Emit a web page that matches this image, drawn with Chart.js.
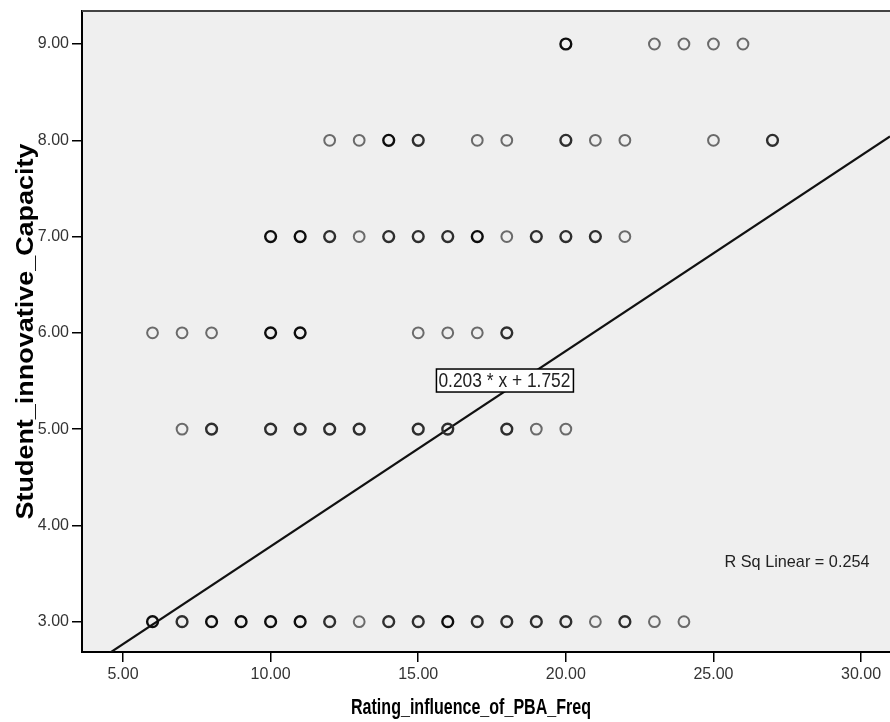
<!DOCTYPE html>
<html>
<head>
<meta charset="utf-8">
<script src="https://cdn.jsdelivr.net/npm/chart.js@4.4.1/dist/chart.umd.min.js"></script>
<style>
  html, body { margin: 0; padding: 0; background: #fff; }
  #scatter { display: block; }
</style>
</head>
<body>
<canvas id="scatter" width="890" height="722"></canvas>
<script>
'use strict';

// x values observed at each y level, and how many cases sit on each point
const xAt3 = [6, 7, 8, 9, 10, 11, 12, 13, 14, 15, 16, 17, 18, 19, 20, 21, 22, 23, 24];
const nAt3 = [5, 2, 3, 3, 3, 3, 2, 1, 2, 2, 3, 2, 2, 2, 2, 1, 2, 1, 1];
const xAt5 = [7, 8, 10, 11, 12, 13, 15, 16, 18, 19, 20];
const nAt5 = [1, 2, 2, 2, 2, 2, 2, 2, 2, 1, 1];
const xAt6 = [6, 7, 8, 10, 11, 15, 16, 17, 18];
const nAt6 = [1, 1, 1, 3, 3, 1, 1, 1, 2];
const xAt7 = [10, 11, 12, 13, 14, 15, 16, 17, 18, 19, 20, 21, 22];
const nAt7 = [3, 3, 2, 1, 2, 2, 2, 3, 1, 2, 2, 2, 1];
const xAt8 = [12, 13, 14, 15, 17, 18, 20, 21, 22, 25, 27];
const nAt8 = [1, 1, 3, 2, 1, 1, 2, 1, 1, 1, 2];
const xAt9 = [20, 23, 24, 25, 26];
const nAt9 = [3, 1, 1, 1, 1];

const xTicks = [5, 10, 15, 20, 25, 30];
const yTicks = [3, 4, 5, 6, 7, 8, 9];

const fitSlope = 0.203;
const fitIntercept = 1.752;
const fitLabel = '0.203 * x + 1.752';
const rSqLabel = 'R Sq Linear = 0.254';
const xTitle = 'Rating_influence_of_PBA_Freq';
const yTitle = 'Student_innovative_Capacity';

const X_MIN = 3.611;
const X_MAX = 30.98;
const Y_MIN = 2.685;
const Y_MAX = 9.343;

function buildPoints() {
  const rows = [[3, xAt3, nAt3], [5, xAt5, nAt5], [6, xAt6, nAt6], [7, xAt7, nAt7], [8, xAt8, nAt8], [9, xAt9, nAt9]];
  const points = [];
  rows.forEach(([y, xs, ns]) => {
    xs.forEach((x, i) => points.push({ x, y, n: ns[i] }));
  });
  return points;
}

function ringColor(ctx) {
  const n = ctx.raw?.n || 1;
  if (n >= 3) return '#0d0d0d';
  if (n === 2) return '#2e2e2e';
  return '#6a6a6a';
}

function ringWidth(ctx) {
  const n = ctx.raw?.n || 1;
  return n >= 2 ? 2.4 : 2;
}

// draw text stretched to a given length along its baseline
function drawFitted(ctx, text, font, cx, cy, length, thickScale, rotate, color) {
  ctx.save();
  ctx.font = font;
  const w = ctx.measureText(text).width;
  ctx.translate(cx, cy);
  if (rotate) ctx.rotate(-Math.PI / 2);
  ctx.scale(length / w, thickScale);
  ctx.textAlign = 'center';
  ctx.textBaseline = 'middle';
  ctx.fillStyle = color || '#000';
  ctx.fillText(text, 0, 0);
  ctx.restore();
}

const frameAndNotes = {
  id: 'frameAndNotes',
  beforeDraw(chart) {
    const { ctx, chartArea: a } = chart;
    ctx.save();
    ctx.fillStyle = '#efefef';
    ctx.fillRect(a.left, a.top, a.right - a.left, a.bottom - a.top);
    ctx.restore();
  },
  afterDraw(chart) {
    const { ctx, chartArea: a, scales } = chart;
    ctx.save();
    ctx.strokeStyle = '#444';
    ctx.lineWidth = 2;
    ctx.beginPath();
    ctx.moveTo(a.left, a.top);
    ctx.lineTo(a.right, a.top);
    ctx.stroke();

    // equation label on the fit line
    const ex = scales.x.getPixelForValue(17.92);
    const ey = scales.y.getPixelForValue(5.51);
    ctx.fillStyle = '#fff';
    ctx.fillRect(ex - 68, ey - 11, 137, 23);
    ctx.strokeStyle = '#000';
    ctx.lineWidth = 1.5;
    ctx.strokeRect(ex - 68, ey - 11, 137, 23);
    ctx.restore();
    drawFitted(ctx, fitLabel, '16px "Liberation Sans", Arial, sans-serif', ex, ey + 1, 132, 1.3, false, '#222');

    const rx = scales.x.getPixelForValue(27.83);
    const ry = scales.y.getPixelForValue(3.609);
    drawFitted(ctx, rSqLabel, '14px "Liberation Sans", Arial, sans-serif', rx, ry, 145, 1.15, false, '#222');

    drawFitted(ctx, xTitle, 'bold 17px "Liberation Sans", Arial, sans-serif', 471, 708, 240, 1.3, false);
    drawFitted(ctx, yTitle, 'bold 16px "Liberation Sans", Arial, sans-serif', 27, (a.top + a.bottom) / 2, 376, 1.45, true);
  },
};

function axisOptions(min, max, ticks, side) {
  return {
    type: 'linear',
    min,
    max,
    afterBuildTicks: scale => { scale.ticks = ticks.map(value => ({ value })); },
    afterFit: scale => {
      if (side === 'x') {
        scale.height = 70;
        scale.paddingRight = 0;
        scale.paddingLeft = 0;
      } else {
        scale.width = 82;
        scale.paddingTop = 0;
        scale.paddingBottom = 0;
      }
    },
    ticks: {
      color: '#333',
      padding: 3,
      font: { family: '"Liberation Sans", Arial, sans-serif', size: 16 },
      callback: value => Number(value).toFixed(2),
    },
    grid: { drawOnChartArea: false, tickLength: 10, color: '#000', lineWidth: 1.5 },
    border: { display: true, color: '#000', width: 2 },
  };
}

new Chart(document.getElementById('scatter'), {
  type: 'scatter',
  data: {
    datasets: [
      {
        type: 'line',
        data: [X_MIN, X_MAX].map(x => ({ x, y: fitSlope * x + fitIntercept })),
        borderColor: '#111',
        borderWidth: 2.2,
        pointRadius: 0,
        fill: false,
        order: 2,
      },
      {
        data: buildPoints(),
        pointStyle: 'circle',
        pointRadius: 5.4,
        borderWidth: ringWidth,
        borderColor: ringColor,
        backgroundColor: 'rgba(0,0,0,0)',
        order: 1,
      },
    ],
  },
  options: {
    responsive: false,
    animation: false,
    events: [],
    layout: { autoPadding: false, padding: { top: 11, right: 0, left: 0, bottom: 0 } },
    plugins: { legend: { display: false }, tooltip: { enabled: false } },
    scales: {
      x: axisOptions(X_MIN, X_MAX, xTicks, 'x'),
      y: axisOptions(Y_MIN, Y_MAX, yTicks, 'y'),
    },
  },
  plugins: [frameAndNotes],
});
</script>
</body>
</html>
